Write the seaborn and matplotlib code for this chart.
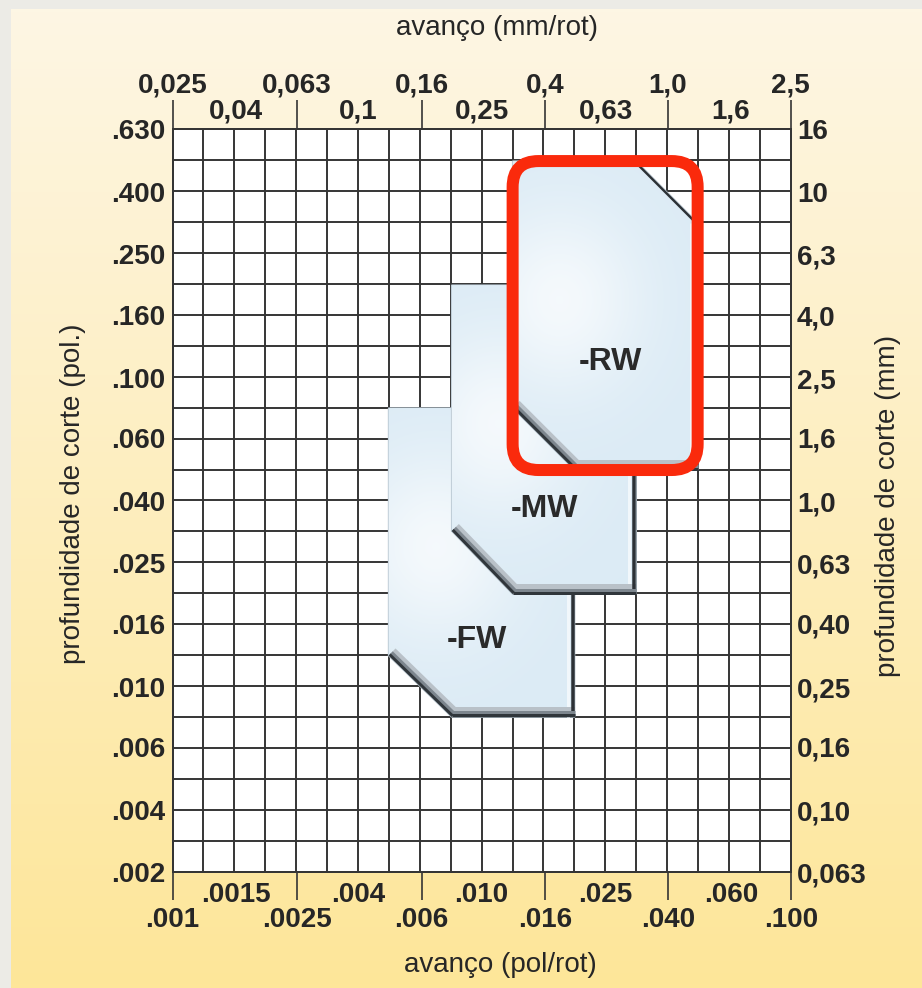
import numpy as np
import pandas as pd
import matplotlib.pyplot as plt
import seaborn as sns
from matplotlib.patches import Polygon, FancyBboxPatch
from matplotlib.transforms import ScaledTranslation

# ---- axis values (grid is log/log, data kept in mm) ----
feed_mm = [0.025, 0.04, 0.063, 0.1, 0.16, 0.25, 0.4, 0.63, 1.0, 1.6, 2.5]
feed_mm_labels = ['0,025', '0,04', '0,063', '0,1', '0,16', '0,25', '0,4', '0,63', '1,0', '1,6', '2,5']
feed_in_labels = ['.001', '.0015', '.0025', '.004', '.006', '.010', '.016', '.025', '.040', '.060', '.100']
depth_mm = [0.063, 0.10, 0.16, 0.25, 0.40, 0.63, 1.0, 1.6, 2.5, 4.0, 6.3, 10, 16]
depth_mm_labels = ['0,063', '0,10', '0,16', '0,25', '0,40', '0,63', '1,0', '1,6', '2,5', '4,0', '6,3', '10', '16']
depth_in_labels = ['.002', '.004', '.006', '.010', '.016', '.025', '.040', '.060', '.100', '.160', '.250', '.400', '.630']

# ---- chipbreaker areas: feed (mm/rot) / depth (mm) outlines ----
fw_feed = [0.125, 0.50, 0.50, 0.20, 0.125]
fw_depth = [2.0, 2.0, 0.20, 0.20, 0.316]
mw_feed = [0.20, 0.79, 0.79, 0.315, 0.20]
mw_depth = [5.0, 5.0, 0.50, 0.50, 0.80]
rw_feed = [0.315, 0.79, 1.25, 1.25, 0.50, 0.315]
rw_depth = [12.6, 12.6, 7.95, 1.26, 1.26, 2.0]
names = ['-FW', '-MW', '-RW']
label_feed = [0.241, 0.40, 0.655]
label_depth = [0.356, 0.94, 2.82]

TXT = '#262626'
GRID = '#353535'
TS = 20

sns.set_theme(style="white")
plt.rcParams['font.family'] = ['Liberation Sans', 'DejaVu Sans']
plt.rcParams['font.weight'] = 'bold'

W, H = 922, 988
fig = plt.figure(figsize=(W / 100, H / 100), dpi=100, facecolor='#ecebe6')

# background gradient
bg = fig.add_axes([11 / W, 0, 1 - 11 / W, 1 - 9 / H])
bg.set_axis_off()
c_top = np.array([0xfd, 0xf6, 0xe4]) / 255
c_bot = np.array([0xfe, 0xe6, 0x99]) / 255
t = np.linspace(0, 1, 256)[:, None]
bg.imshow((c_top * (1 - t) + c_bot * t)[:, None, :], aspect='auto', extent=[0, 1, 0, 1])

L, R, T, B = 172.5, 790.7, 129, 872
ax = fig.add_axes([L / W, 1 - B / H, (R - L) / W, (B - T) / H])
ax.set_xscale('log')
ax.set_yscale('log')
ax.set_xlim(feed_mm[0], feed_mm[-1])
ax.set_ylim(depth_mm[0], depth_mm[-1])
ax.set_facecolor('white')

grid_x = np.geomspace(feed_mm[0], feed_mm[-1], 21)
grid_y = np.geomspace(depth_mm[0], depth_mm[-1], 25)
ax.vlines(grid_x[1:-1], depth_mm[0], depth_mm[-1], color=GRID, lw=1.4, zorder=1)
ax.hlines(grid_y[1:-1], feed_mm[0], feed_mm[-1], color=GRID, lw=1.4, zorder=1)
for sp in ax.spines.values():
    sp.set_color(GRID)
    sp.set_linewidth(1.4)


def gloss_image(x0, x1, y0, y1):
    # light blue with a soft white sheen on the left-middle of the shape
    n = 300
    u = np.linspace(0, 1, n)[None, :]
    v = np.linspace(1, 0, n)[:, None]
    cx, cy = x0 + 0.25 * (x1 - x0), y0 + 0.55 * (y1 - y0)
    d = ((u - cx) / (0.45 * (x1 - x0))) ** 2 + ((v - cy) / (0.3 * (y1 - y0))) ** 2
    wgt = 0.7 * np.exp(-d)
    base = np.array([0.862, 0.922, 0.962])
    img = base[None, None, :] * (1 - wgt[..., None]) + wgt[..., None]
    return img


def draw_edge(p, q, inward, lw_px, color, off_px, z):
    tr = ax.transData + ScaledTranslation(inward[0] * off_px / 100, inward[1] * off_px / 100,
                                          fig.dpi_scale_trans)
    ax.plot([p[0], q[0]], [p[1], q[1]], color=color, lw=lw_px * 0.72, transform=tr,
            solid_capstyle='butt', zorder=z)


to_axes = ax.transData + ax.transAxes.inverted()
shapes = [(fw_feed, fw_depth), (mw_feed, mw_depth), (rw_feed, rw_depth)]
for i, (fx, dy) in enumerate(shapes):
    z = 2 + i
    pts = np.column_stack([fx, dy])
    poly = Polygon(pts, closed=True, facecolor='#dbeaf5', edgecolor='#aebdc8', lw=1, zorder=z)
    ax.add_patch(poly)
    a = to_axes.transform(pts)
    img = ax.imshow(gloss_image(a[:, 0].min(), a[:, 0].max(), a[:, 1].min(), a[:, 1].max()),
                    extent=[0, 1, 0, 1], transform=ax.transAxes, aspect='auto',
                    interpolation='bilinear', zorder=z + 0.01)
    img.set_clip_path(poly)
    lp = np.log10(pts)
    for k in range(len(pts)):
        p, q = pts[k], pts[(k + 1) % len(pts)]
        d = lp[(k + 1) % len(pts)] - lp[k]
        d = d / np.hypot(*d)
        inward = (d[1], -d[0])
        outward = (-d[1], d[0])
        if outward[1] < -0.5:  # bottom edge or lower chamfer: bevel shading
            draw_edge(p, q, inward, 10, '#b9c1c8', 5, z + 0.02)
            draw_edge(p, q, inward, 5, '#7d868e', 3.5, z + 0.03)
            draw_edge(p, q, inward, 3, '#30363b', 1.5, z + 0.04)
        elif outward[0] > 0.5 and abs(outward[1]) < 0.3:  # right edge
            draw_edge(p, q, inward, 3, '#f1f7fb', 7, z + 0.02)
            draw_edge(p, q, inward, 3.5, '#2c3136', 1.7, z + 0.03)
        elif outward[0] > 0.3 and outward[1] > 0.3:  # upper chamfer
            draw_edge(p, q, inward, 2.4, '#2c3136', 1.2, z + 0.03)

# shape names
lab = pd.DataFrame({'name': names, 'feed': label_feed, 'depth': label_depth})
for r in lab.itertuples():
    ax.text(r.feed, r.depth, r.name, ha='center', va='center', fontsize=23,
            fontweight='bold', color='#2a2a2a', zorder=10)

# red highlight around -RW
rw = to_axes.transform(np.column_stack([rw_feed, rw_depth]))
x0, x1 = rw[:, 0].min(), rw[:, 0].max()
y0, y1 = rw[:, 1].min(), rw[:, 1].max()
asp = (R - L) / (B - T)
box = FancyBboxPatch((x0, y0), x1 - x0, y1 - y0,
                     boxstyle='round,pad=0,rounding_size=%f' % (26 / (R - L)),
                     mutation_aspect=asp, transform=ax.transAxes, facecolor='none',
                     edgecolor='#fa2a0c', lw=12 * 0.72, zorder=12, clip_on=False)
ax.add_patch(box)

# bottom axis (pol/rot)
ax.set_xticks(feed_mm[::2], labels=feed_in_labels[::2])
ax.set_xticks(feed_mm[1::2], labels=feed_in_labels[1::2], minor=True)
ax.tick_params(axis='x', which='major', bottom=True, top=False, length=20, width=1.2,
               color=GRID, direction='out', labelsize=TS, pad=5, labelcolor=TXT)
ax.tick_params(axis='x', which='minor', bottom=True, top=False, length=0,
               labelsize=TS, pad=7.5, labelcolor=TXT)
# left axis (pol.)
ax.set_yticks(depth_mm, labels=depth_in_labels)
ax.set_yticks([], minor=True)
ax.tick_params(axis='y', which='major', left=True, right=False, length=0, labelsize=TS,
               pad=5, labelcolor=TXT)

# top axis (mm/rot)
ax_top = ax.twiny()
ax_top.set_xscale('log')
ax_top.set_xlim(ax.get_xlim())
ax_top.set_xticks(feed_mm[::2], labels=feed_mm_labels[::2])
ax_top.set_xticks(feed_mm[1::2], labels=feed_mm_labels[1::2], minor=True)
ax_top.tick_params(axis='x', which='major', length=21, width=1.2, color=GRID,
                   direction='out', labelsize=TS, pad=1, labelcolor=TXT)
ax_top.tick_params(axis='x', which='minor', length=0, labelsize=TS, pad=3.5, labelcolor=TXT)

# right axis (mm)
ax_r = ax.twinx()
ax_r.set_yscale('log')
ax_r.set_ylim(ax.get_ylim())
ax_r.set_yticks(depth_mm, labels=depth_mm_labels)
ax_r.set_yticks([], minor=True)
ax_r.tick_params(axis='y', which='major', length=0, labelsize=TS, pad=4.5, labelcolor=TXT)
for a_ in (ax_top, ax_r):
    for sp in a_.spines.values():
        sp.set_color(GRID)
        sp.set_linewidth(1.4)

# axis titles
ax.set_xlabel('avanço (pol/rot)', fontsize=20, fontweight='normal', color=TXT, va='center')
ax.xaxis.set_label_coords((500 - L) / (R - L), (B - 965) / (B - T))
ax_top.set_xlabel('avanço (mm/rot)', fontsize=20, fontweight='normal', color=TXT, va='center')
ax_top.xaxis.set_label_coords((497 - L) / (R - L), (B - 28) / (B - T))
ax.set_ylabel('profundidade de corte (pol.)', fontsize=20, fontweight='normal', color=TXT,
              va='center')
ax.yaxis.set_label_coords((73 - L) / (R - L), (B - 494) / (B - T))
ax_r.set_ylabel('profundidade de corte (mm)', fontsize=20, fontweight='normal', color=TXT,
                va='center', rotation=90)
ax_r.yaxis.set_label_coords((888 - L) / (R - L), (B - 506) / (B - T))

fig.savefig('out.png', dpi=100, facecolor=fig.get_facecolor())
